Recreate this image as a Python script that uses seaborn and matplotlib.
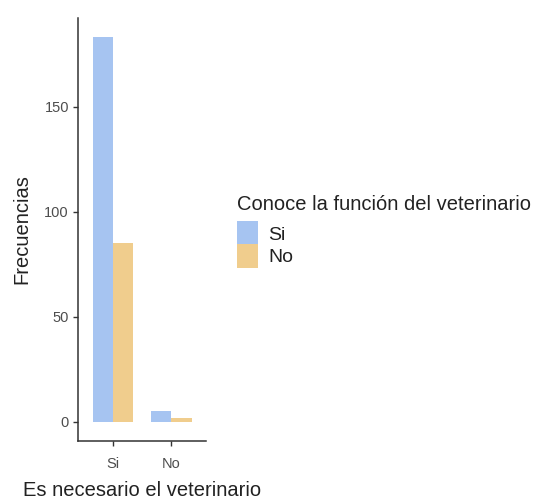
import pandas as pd
import matplotlib.pyplot as plt
import seaborn as sns

# data
necesario = ["Si", "Si", "No", "No"]
conoce = ["Si", "No", "Si", "No"]
frecuencias = [183, 85, 5, 2]

df = pd.DataFrame({
    "Es necesario el veterinario": necesario,
    "Conoce la función del veterinario": conoce,
    "Frecuencias": frecuencias,
})

sns.set_style("white")
plt.rcParams["font.family"] = ["Liberation Sans", "DejaVu Sans"]

fig = plt.figure(figsize=(5.34, 5.0), dpi=100)
ax = fig.add_axes([0.146, 0.118, 0.240, 0.846])

sns.barplot(
    data=df,
    x="Es necesario el veterinario",
    y="Frecuencias",
    hue="Conoce la función del veterinario",
    order=["Si", "No"],
    hue_order=["Si", "No"],
    palette=["#a6c4f1", "#f0cd8d"],
    width=0.7,
    gap=0,
    saturation=1,
    linewidth=0,
    errorbar=None,
    ax=ax,
)

ax.set_xlim(-0.6, 1.6)
ax.set_ylim(-9.15, 192.15)
ax.set_yticks([0, 50, 100, 150])

for s in ["top", "right"]:
    ax.spines[s].set_visible(False)
for s in ["left", "bottom"]:
    ax.spines[s].set_color("#333333")
    ax.spines[s].set_linewidth(1.1)

ax.tick_params(axis="both", length=3.5, width=1, color="#333333",
               labelsize=10.5, labelcolor="#4d4d4d", bottom=True, left=True, pad=3)
ax.tick_params(axis="x", pad=8)
ax.set_xlabel("Es necesario el veterinario", fontsize=14.5, color="#222222", labelpad=7)
ax.set_ylabel("Frecuencias", fontsize=14.5, color="#222222", labelpad=9)

ax.legend_.remove()
handles, labels = ax.get_legend_handles_labels()
leg = fig.legend(
    handles, labels,
    title="Conoce la función del veterinario",
    loc="upper left",
    bbox_to_anchor=(0.429, 0.626),
    frameon=False,
    fontsize=14,
    title_fontsize=14.5,
    handlelength=1.1,
    handleheight=1.53,
    handletextpad=0.5,
    labelspacing=-0.09,
    borderaxespad=0,
)
leg._legend_box.align = "left"
leg._legend_box.sep = 5.5
for t in leg.get_texts():
    t.set_color("#222222")
leg.get_title().set_color("#222222")

plt.savefig("out.png", dpi=100)
